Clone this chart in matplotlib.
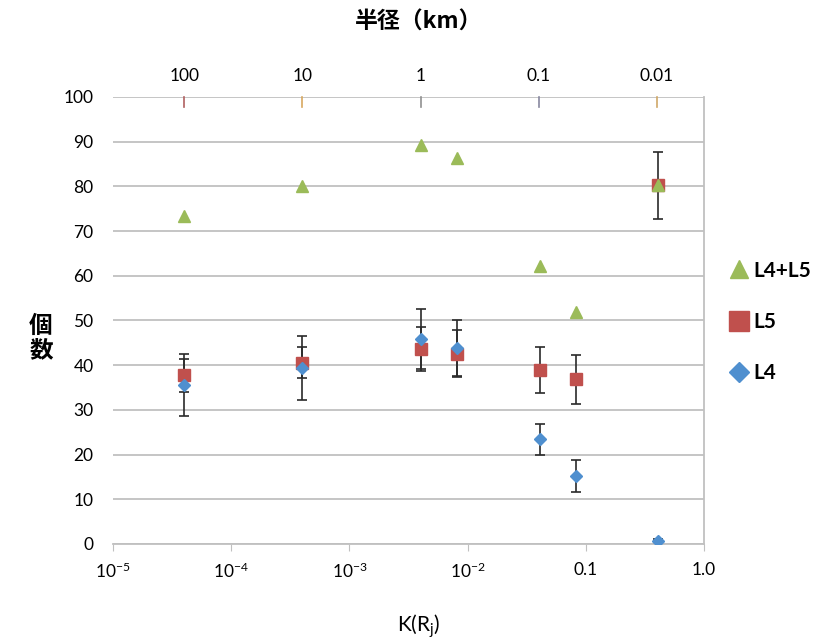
import matplotlib
matplotlib.use("Agg")
import matplotlib.pyplot as plt
import matplotlib.transforms as mtransforms
import numpy as np

plt.rcParams['font.family'] = ['Lato', 'Noto Sans CJK JP', 'DejaVu Sans']
plt.rcParams['mathtext.fontset'] = 'custom'
plt.rcParams['mathtext.rm'] = 'Lato'
plt.rcParams['mathtext.it'] = 'Lato'

# K(Rj) positions of the samples
k_values = [4e-5, 4e-4, 4e-3, 8.2e-3, 4.1e-2, 8.2e-2, 0.41]

# counts per series
l4l5 = [73.3, 80.0, 89.3, 86.3, 62.3, 52.0, 80.4]
l5 = [37.7, 40.6, 43.6, 42.6, 38.9, 36.8, 80.2]
l5_err = [3.7, 3.4, 4.9, 5.3, 5.1, 5.5, 7.6]
l4 = [35.5, 39.4, 45.8, 43.8, 23.4, 15.2, 0.7]
l4_err = [6.9, 7.2, 6.7, 6.2, 3.4, 3.5, 0.4]

# bottom axis ticks
bottom_ticks = [1e-5, 1e-4, 1e-3, 1e-2, 0.1, 1.0]
bottom_labels = [r'$10^{-5}$', r'$10^{-4}$', r'$10^{-3}$', r'$10^{-2}$', '0.1', '1.0']

# top axis: radius in km
radius_ticks = [4e-5, 4e-4, 4e-3, 4e-2, 4e-1]
radius_labels = ['100', '10', '1', '0.1', '0.01']
radius_tick_colors = ['#b06060', '#d8a860', '#909090', '#8888a0', '#d0a868']

green = '#9BBB59'
red = '#C0504D'
blue = '#4F8FCF'
grid_c = '#C0C0C0'

fig = plt.figure(figsize=(8.2, 6.44), dpi=100)
ax = fig.add_axes([0.1378, 0.1553, 0.8585 - 0.1378, 0.8494 - 0.1553])

ax.set_xscale('log')
ax.set_xlim(1e-5, 1.0)
ax.set_ylim(0, 100)
ax.set_yticks(np.arange(0, 101, 10))
ax.yaxis.grid(True, color=grid_c, linewidth=1.3)
ax.set_axisbelow(True)

for side in ['left', 'top']:
    ax.spines[side].set_visible(False)
ax.spines['right'].set_color(grid_c)
ax.spines['right'].set_linewidth(1.3)
ax.spines['bottom'].set_color(grid_c)
ax.spines['bottom'].set_linewidth(1.3)

ax.set_xticks(bottom_ticks)
ax.set_xticklabels(bottom_labels)
ax.xaxis.set_minor_locator(matplotlib.ticker.NullLocator())
ax.tick_params(axis='x', length=5, color=grid_c, labelsize=12.5, pad=8)
ax.tick_params(axis='y', length=0, labelsize=12.5, pad=14)

# error bars
ax.errorbar(k_values, l5, yerr=l5_err, fmt='none', ecolor='#2a2a2a',
            elinewidth=1.2, capsize=3.5, capthick=1.2, zorder=2)
ax.errorbar(k_values, l4, yerr=l4_err, fmt='none', ecolor='#2a2a2a',
            elinewidth=1.2, capsize=3.5, capthick=1.2, zorder=2)

ax.plot(k_values, l5, 's', color=red, markersize=8.5, zorder=3, label='L5')
ax.plot(k_values, l4, 'D', color=blue, markersize=6, zorder=4, label='L4')
ax.plot(k_values, l4l5, '^', color=green, markersize=8, zorder=5, label='L4+L5')

# top axis for radius (labels only; tick marks drawn below in their own colours)
top = ax.twiny()
top.set_xscale('log')
top.set_xlim(ax.get_xlim())
top.set_xticks(radius_ticks)
top.set_xticklabels(radius_labels)
top.xaxis.set_minor_locator(matplotlib.ticker.NullLocator())
top.tick_params(axis='x', length=0, labelsize=12.5, pad=9)
for side in ['left', 'right', 'top', 'bottom']:
    top.spines[side].set_visible(False)

tick_trans = mtransforms.blended_transform_factory(ax.transData, ax.transAxes)
for xv, c in zip(radius_ticks, radius_tick_colors):
    ax.plot([xv, xv], [1.0, 0.978], color=c, linewidth=1.2, transform=tick_trans,
            clip_on=False, zorder=1)

fig.text(0.51, 0.965, '半径（km）', ha='center', va='center', fontsize=16.5,
         fontweight='bold', family=['Noto Sans CJK JP', 'DejaVu Sans'])
fig.text(0.51, 0.027, r'K(R$_\mathrm{j}$)', ha='center', va='center', fontsize=15)
fig.text(0.05, 0.475, '個\n数', ha='center', va='center', fontsize=17,
         fontweight='bold', linespacing=1.05, family=['Noto Sans CJK JP', 'DejaVu Sans'])

handles, labels = ax.get_legend_handles_labels()
order = [2, 0, 1]
leg = fig.legend([handles[i] for i in order], [labels[i] for i in order],
                 loc='center left', bbox_to_anchor=(0.866, 0.5), frameon=False,
                 markerscale=1.7, handlelength=1.0, handletextpad=0.2,
                 labelspacing=1.5, prop={'size': 15, 'weight': 'bold'})

fig.savefig('out.png', dpi=100)
